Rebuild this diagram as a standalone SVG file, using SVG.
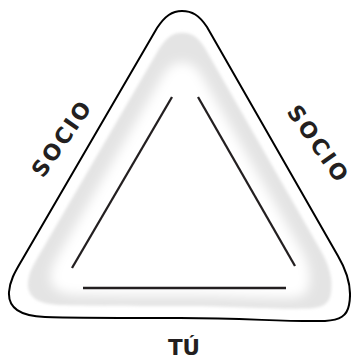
<svg xmlns="http://www.w3.org/2000/svg" width="351" height="358" viewBox="0 0 351 358">
<style>
.lbl{font-family:"DejaVu Sans","Liberation Sans",sans-serif;font-weight:bold;fill:#231f20;text-anchor:middle}
.side{stroke:#231f20;stroke-width:2.3;fill:none;stroke-linecap:butt}
</style>
<defs>
<path id="shape" d="M182,11 C192,11 199,15 207,27 L338,256 C348,273 352,290 349,305 C347,316 340,320 325,321 C280,322 250,318 180,318 C120,318 70,318 45,317 C20,316 8,308 9,292 C10,280 15,272 22,260 L157,28 C165,16 172,11 182,11 Z"/>
<filter id="b1" x="-20%" y="-20%" width="140%" height="140%"><feGaussianBlur stdDeviation="1.5"/></filter>
<filter id="b2" x="-20%" y="-20%" width="140%" height="140%"><feGaussianBlur stdDeviation="7"/></filter>
</defs>
<rect width="351" height="358" fill="#fff"/>
<g id="plate">
<use href="#shape" fill="#fff" stroke="#000" stroke-width="2"/>
<use href="#shape" fill="#e4e4e4" filter="url(#b1)" transform="translate(182 208) scale(0.89) translate(-182 -208)"/>
<use href="#shape" fill="#fff" filter="url(#b2)" transform="translate(182 212) scale(0.76) translate(-182 -208)"/>
</g>
<g id="connectors">
<line class="side" x1="172" y1="97" x2="72" y2="268"/>
<line class="side" x1="198" y1="97" x2="295" y2="266"/>
<line class="side" x1="83" y1="288" x2="286" y2="288"/>
</g>
<g id="socio-left"><text class="lbl" font-size="22" letter-spacing="2.2" transform="translate(61 139) rotate(-55.3)" x="1.1" y="8">SOCIO</text></g>
<g id="socio-right"><text class="lbl" font-size="22" letter-spacing="2.6" transform="translate(318 143) rotate(54.8)" x="1.3" y="8">SOCIO</text></g>
<g id="tu"><text class="lbl" font-size="21.5" x="184" y="355">TÚ</text></g>
</svg>
